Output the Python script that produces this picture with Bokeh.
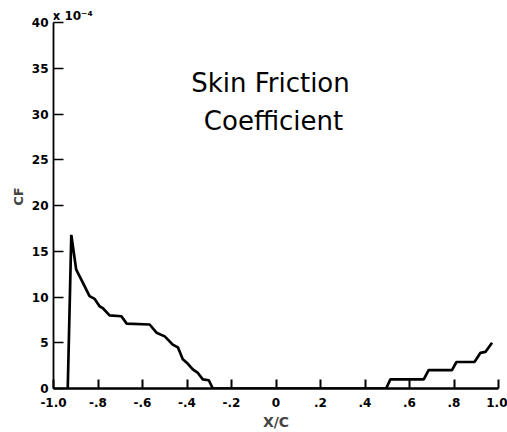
from bokeh.plotting import figure
from bokeh.models import Range1d, FixedTicker, Label
from bokeh.embed import file_html
from bokeh.resources import INLINE

# X/C positions and skin friction coefficient (x 10^-4)
x_c = [-0.936, -0.920, -0.898, -0.875, -0.838, -0.815, -0.793, -0.779, -0.748,
       -0.695, -0.671, -0.568, -0.537, -0.500, -0.464, -0.441, -0.419, -0.396,
       -0.374, -0.351, -0.329, -0.302, -0.284, 0.495, 0.514, 0.664, 0.686,
       0.791, 0.811, 0.892, 0.919, 0.941, 0.971]
cf = [0.0, 16.8, 13.0, 11.9, 10.1, 9.8, 9.0, 8.8, 8.0,
      7.9, 7.1, 7.0, 6.1, 5.7, 4.8, 4.5, 3.2, 2.7,
      2.1, 1.7, 1.0, 0.9, 0.0, 0.0, 1.0, 1.0, 2.0,
      2.0, 2.9, 2.9, 3.9, 4.0, 5.0]

x_ticks = [-1.0, -0.8, -0.6, -0.4, -0.2, 0.0, 0.2, 0.4, 0.6, 0.8, 1.0]
x_tick_labels = ["-1.0", "-.8", "-.6", "-.4", "-.2", "0", ".2", ".4", ".6", ".8", "1.0"]
y_ticks = [0, 5, 10, 15, 20, 25, 30, 35, 40]
y_tick_labels = ["0", "5", "10", "15", "20", "25", "30", "35", "40"]

FONT = "DejaVu Sans"

p = figure(width=507, height=432, output_backend="svg", toolbar_location=None,
           x_range=Range1d(-1.0, 1.0), y_range=Range1d(0, 42),
           min_border_left=53, min_border_right=9, min_border_top=4,
           min_border_bottom=43)
p.outline_line_color = None
p.xgrid.visible = False
p.ygrid.visible = False
p.background_fill_color = "white"
p.border_fill_color = "white"

p.line(x_c, cf, line_color="black", line_width=2.7)

xa = p.xaxis[0]
xa.ticker = FixedTicker(ticks=x_ticks)
xa.major_label_overrides = {t: l for t, l in zip(x_ticks, x_tick_labels)}
xa.major_tick_in = 9
xa.major_tick_out = 0
xa.minor_tick_line_color = None
xa.axis_line_width = 2.5
xa.major_tick_line_width = 2
xa.major_label_standoff = 9
xa.major_label_text_font = FONT
xa.major_label_text_font_style = "bold"
xa.major_label_text_font_size = "12px"
xa.major_label_text_color = "black"
xa.axis_label = "X/C"
xa.axis_label_text_font = FONT
xa.axis_label_text_font_style = "bold"
xa.axis_label_text_font_size = "14px"
xa.axis_label_standoff = 4

ya = p.yaxis[0]
ya.ticker = FixedTicker(ticks=y_ticks)
ya.bounds = (0, 40)
ya.major_label_overrides = {t: l for t, l in zip(y_ticks, y_tick_labels)}
ya.major_tick_in = 10
ya.major_tick_out = 0
ya.minor_tick_line_color = None
ya.axis_line_width = 1.8
ya.major_tick_line_width = 1.5
ya.major_label_standoff = 5
ya.major_label_text_font = FONT
ya.major_label_text_font_style = "bold"
ya.major_label_text_font_size = "12px"
ya.major_label_text_color = "black"
ya.axis_label = "CF"
ya.axis_label_text_font = FONT
ya.axis_label_text_font_style = "bold"
ya.axis_label_text_font_size = "13px"
ya.axis_label_standoff = 3

p.add_layout(Label(x=-1.0, y=40, x_offset=-1, y_offset=7, text="x 10⁻⁴",
                   text_font=FONT, text_font_style="bold", text_font_size="12px",
                   text_baseline="middle", text_align="left", text_color="black"))

p.add_layout(Label(x=-0.025, y=33.4, text="Skin Friction", text_font=FONT,
                   text_font_size="26px", text_align="center", text_baseline="middle",
                   text_color="black"))
p.add_layout(Label(x=-0.011, y=29.3, text="Coefficient", text_font=FONT,
                   text_font_size="26px", text_align="center", text_baseline="middle",
                   text_color="black"))

open("out.html", "w").write(file_html(p, INLINE))
